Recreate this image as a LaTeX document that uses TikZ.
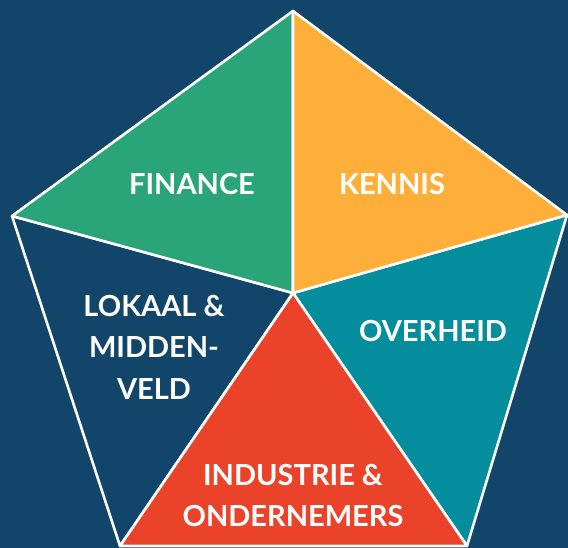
\documentclass[tikz,border=0pt]{standalone}
\usepackage{fontspec}
\setmainfont{Lato}
\usetikzlibrary{calc}
\definecolor{bgnavy}{RGB}{17,70,106}
\definecolor{financegreen}{RGB}{42,165,122}
\definecolor{kennisorange}{RGB}{254,175,57}
\definecolor{overheidteal}{RGB}{3,141,157}
\definecolor{industriered}{RGB}{234,67,41}
\begin{document}
\begin{tikzpicture}[x=1pt, y=-1pt, seg/.style={draw=white, line width=2.6pt, line join=round},
  lbl/.style={font=\fontsize{29}{41.5}\selectfont\bfseries, text=white, inner sep=0pt, align=center}]
\fill[bgnavy] (0,0) rectangle (568,548);
\useasboundingbox (0,0) rectangle (568,548);
%pentagon corners
\coordinate (mid) at (293,293);
\coordinate (top) at (293,11);
\coordinate (right) at (567,215);
\coordinate (botright) at (467,546);
\coordinate (botleft) at (120,546);
\coordinate (left) at (12,216);
%sectors
\filldraw[seg, fill=bgnavy] (mid) -- (botleft) -- (left) -- cycle;
\filldraw[seg, fill=overheidteal] (mid) -- (right) -- (botright) -- cycle;
\filldraw[seg, fill=financegreen] (mid) -- (left) -- (top) -- cycle;
\filldraw[seg, fill=kennisorange] (mid) -- (top) -- (right) -- cycle;
\filldraw[seg, fill=industriered] (mid) -- (botright) -- (botleft) -- cycle;
%labels
\node[lbl] (finance) at (192,184) {FINANCE};
\node[lbl] (kennis) at (392,184) {KENNIS};
\node[lbl] (lokaal) at (154,347) {LOKAAL \&\\MIDDEN-\\VELD};
\node[lbl] (overheid) at (433,331) {OVERHEID};
\node[lbl] (industrie) at (293,495.5) {INDUSTRIE \&\\ONDERNEMERS};
\end{tikzpicture}
\end{document}
